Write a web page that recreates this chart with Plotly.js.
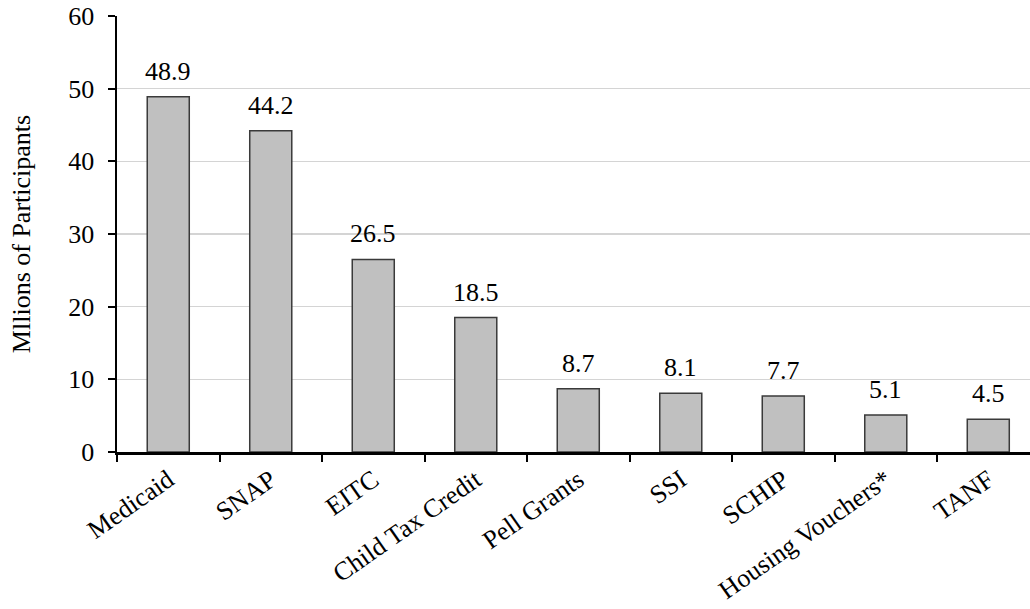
<!DOCTYPE html>
<html>
<head>
<meta charset="utf-8">
<script src="https://cdn.plot.ly/plotly-3.0.1.min.js"></script>
<style>
  html, body { margin: 0; padding: 0; background: #fff; }
  #chart { width: 1030px; height: 609px; }
</style>
</head>
<body>
<div id="chart"></div>
<script>
// Participants by program, in millions
const programs = ["Medicaid", "SNAP", "EITC", "Child Tax Credit", "Pell Grants",
                  "SSI", "SCHIP", "Housing Vouchers*", "TANF"];
const participants = [48.9, 44.2, 26.5, 18.5, 8.7, 8.1, 7.7, 5.1, 4.5];
const yTicks = [0, 10, 20, 30, 40, 50, 60];

const serif = "Liberation Serif, Times New Roman, serif";
const fontSize = 26;

// soft shadow under the category axis
const shadow = [0.12, 0.24, 0.36, 0.5, 0.65, 0.8].map((d, i) => ({
  type: "line", xref: "paper", yref: "y",
  x0: 0.004, x1: 1, y0: -d, y1: -d,
  line: { color: "rgba(70,70,70," + (0.34 - i * 0.055).toFixed(2) + ")", width: 1.2 },
  layer: "below"
}));

// value labels above each bar
const valueLabels = programs.map((p, i) => ({
  x: p, y: participants[i], xref: "x", yref: "y",
  text: participants[i].toFixed(1),
  showarrow: false, yanchor: "bottom", yshift: 9,
  font: { family: serif, size: fontSize, color: "#000" }
}));

const trace = {
  type: "bar",
  x: programs,
  y: participants,
  width: 0.41,
  marker: { color: "#c0c0c0", line: { color: "#3a3a3a", width: 1.5 } },
  hoverinfo: "x+y"
};

const layout = {
  width: 1030, height: 609,
  margin: { l: 117, r: 0, t: 16, b: 157 },
  paper_bgcolor: "#fff", plot_bgcolor: "#fff",
  showlegend: false,
  font: { family: serif, size: fontSize, color: "#000" },
  xaxis: {
    type: "category",
    range: [-0.5, 8.407],
    tickson: "boundaries",
    ticks: "outside", ticklen: 7, tickwidth: 2, tickcolor: "#000",
    showline: true, linecolor: "#000", linewidth: 2.5,
    showgrid: false, zeroline: false,
    tickangle: -35,
    tickfont: { family: serif, size: fontSize, color: "#000" }
  },
  yaxis: {
    range: [0, 60],
    tickvals: yTicks,
    ticks: "outside", ticklen: 7, tickwidth: 2, tickcolor: "#000",
    ticklabelstandoff: 8,
    showline: true, linecolor: "#000", linewidth: 2.5,
    showgrid: true, gridcolor: "#d4d4d4", gridwidth: 1.2,
    zeroline: false,
    tickfont: { family: serif, size: fontSize, color: "#000" },
    title: { text: "Mllions of Participants", standoff: 30,
             font: { family: serif, size: fontSize, color: "#000" } }
  },
  annotations: valueLabels,
  shapes: shadow
};

Plotly.newPlot("chart", [trace], layout, { displayModeBar: false, staticPlot: true });
</script>
</body>
</html>
